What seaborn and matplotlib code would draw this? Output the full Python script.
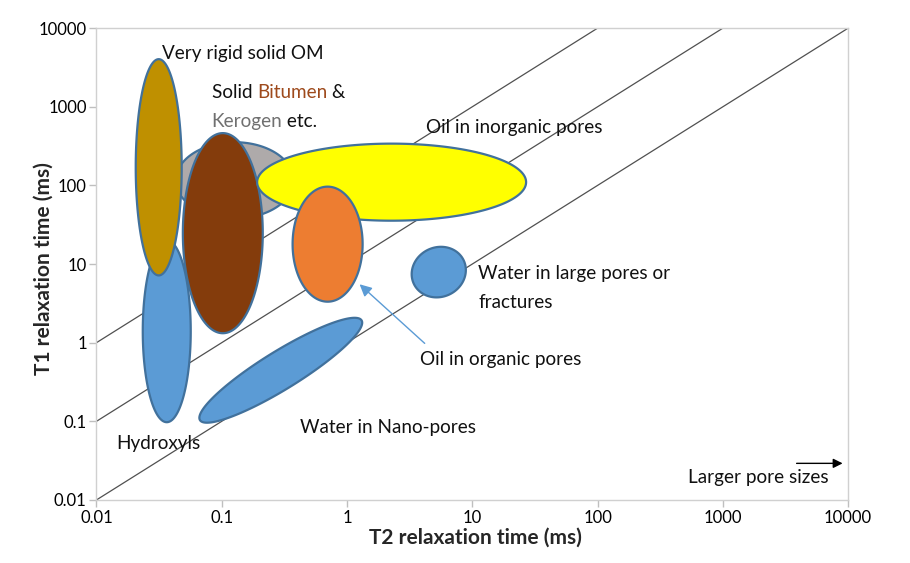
import numpy as np
import pandas as pd
import matplotlib
matplotlib.use("Agg")
import matplotlib.pyplot as plt
import seaborn as sns

# ---------------- data ----------------
tick_values = [0.01, 0.1, 1, 10, 100, 1000, 10000]
tick_labels = ["0.01", "0.1", "1", "10", "100", "1000", "10000"]

# T1/T2 ratio reference lines
ratios = [1, 10, 100]

# ellipses: name, centre T2, centre T1, width (x-decades), height (y-decades), angle (deg on screen), fill
ell_names = ["Kerogen", "Hydroxyls", "Very rigid solid OM", "Solid Bitumen",
             "Oil in inorganic pores", "Oil in organic pores",
             "Water in Nano-pores", "Water in large pores"]
ell_t2 = [0.127, 0.0364, 0.0314, 0.102, 2.27, 0.70, 0.296, 5.4]
ell_t1 = [116, 1.40, 170, 24.7, 110, 17.9, 0.446, 7.9]
ell_w = [0.94, 0.383, 0.367, 0.638, 2.147, 0.559, 1.516, 0.44]
ell_h = [0.97, 2.315, 2.75, 2.545, 0.98, 1.463, 0.483, 0.63]
ell_ang = [0, 0, 0, 0, 0, 0, 31.7, 25]
ell_col = ["#AEAAAA", "#5B9BD5", "#BF9000", "#843C0C",
           "#FFFF00", "#ED7D31", "#5B9BD5", "#5B9BD5"]

# ---------------- figure ----------------
sns.set_theme(style="white")
plt.rcParams["font.family"] = ["Lato", "DejaVu Sans"]

fig = plt.figure(figsize=(9.10, 5.63), dpi=100)
ax = fig.add_axes([0.106, 0.112, 0.826, 0.838])
ax.set_xscale("log")
ax.set_yscale("log")
ax.set_xlim(0.01, 10000)
ax.set_ylim(0.01, 10000)

# reference lines T1 = r * T2
xs = np.array([0.01, 10000.0])
rows = []
for r in ratios:
    for xv in xs:
        rows.append({"T2": xv, "T1": xv * r, "ratio": str(r)})
df_lines = pd.DataFrame(rows)
sns.lineplot(data=df_lines, x="T2", y="T1", units="ratio", estimator=None,
             color="#505050", lw=0.9, ax=ax, zorder=1, legend=False)

fig.canvas.draw()
bb = ax.get_window_extent()
sx = bb.width / 6.0
sy = bb.height / 6.0

def ellipse_pts(cx, cy, w, h, ang):
    t = np.linspace(0, 2 * np.pi, 300)
    a = w / 2 * sx
    b = h / 2 * sy
    th = np.radians(ang)
    dx = a * np.cos(t) * np.cos(th) - b * np.sin(t) * np.sin(th)
    dy = a * np.cos(t) * np.sin(th) + b * np.sin(t) * np.cos(th)
    return 10 ** (np.log10(cx) + dx / sx), 10 ** (np.log10(cy) + dy / sy)

for i in range(len(ell_names)):
    ex, ey = ellipse_pts(ell_t2[i], ell_t1[i], ell_w[i], ell_h[i], ell_ang[i])
    ax.fill(ex, ey, facecolor=ell_col[i], edgecolor="#41719C", lw=1.6,
            zorder=2 + i)

# ---------------- texts ----------------
fs = 13.6
tc = "#111111"
ax.text(0.0333, 4800, "Very rigid solid OM", fontsize=fs, color=tc, va="center", zorder=20)
t1 = ax.text(0.083, 1535, "Solid ", fontsize=fs, color=tc, va="center", zorder=20)
t2 = ax.annotate("Bitumen", xy=(1, 0), xycoords=t1, va="bottom", fontsize=fs,
                 color="#9E4A1C", zorder=20)
ax.annotate(" &", xy=(1, 0), xycoords=t2, va="bottom", fontsize=fs, color=tc, zorder=20)
k1 = ax.text(0.083, 656, "Kerogen", fontsize=fs, color="#707070", va="center", zorder=20)
ax.annotate(" etc.", xy=(1, 0), xycoords=k1, va="bottom", fontsize=fs, color=tc, zorder=20)
ax.text(4.25, 550, "Oil in inorganic pores", fontsize=fs, color=tc, va="center", zorder=20)
ax.text(11.2, 7.64, "Water in large pores or", fontsize=fs, color=tc, va="center", zorder=20)
ax.text(11.2, 3.27, "fractures", fontsize=fs, color=tc, va="center", zorder=20)
ax.text(3.8, 0.615, "Oil in organic pores", fontsize=fs, color=tc, va="center", zorder=20)
ax.text(0.42, 0.084, "Water in Nano-pores", fontsize=fs, color=tc, va="center", zorder=20)
ax.text(0.01426, 0.0525, "Hydroxyls", fontsize=fs, color=tc, va="center", zorder=20)
ax.text(525, 0.0194, "Larger pore sizes", fontsize=fs, color=tc, va="center", zorder=20)

# arrows
ax.annotate("", xy=(9040, 0.0292), xytext=(3880, 0.0292),
            arrowprops=dict(arrowstyle="-|>", color="black", lw=1.0,
                            mutation_scale=14, shrinkA=0, shrinkB=0), zorder=20)
ax.annotate("", xy=(1.26, 5.53), xytext=(4.17, 0.98),
            arrowprops=dict(arrowstyle="-|>", color="#5B9BD5", lw=1.0,
                            mutation_scale=18, shrinkA=0, shrinkB=0), zorder=20)

# ---------------- axes styling ----------------
ax.xaxis.set_major_locator(matplotlib.ticker.FixedLocator(tick_values))
ax.xaxis.set_major_formatter(matplotlib.ticker.FixedFormatter(tick_labels))
ax.yaxis.set_major_locator(matplotlib.ticker.FixedLocator(tick_values))
ax.yaxis.set_major_formatter(matplotlib.ticker.FixedFormatter(tick_labels))
ax.xaxis.set_minor_locator(matplotlib.ticker.NullLocator())
ax.yaxis.set_minor_locator(matplotlib.ticker.NullLocator())
ax.tick_params(axis="both", which="major", direction="out", length=5, width=1,
               color="#BFBFBF", labelsize=12, labelcolor="black", pad=2,
               bottom=True, left=True)
for s in ax.spines.values():
    s.set_color("#D0D0D0")
    s.set_linewidth(1.0)
ax.grid(False)

ax.set_xlabel("T2 relaxation time (ms)", fontsize=15, fontweight="bold")
ax.set_ylabel("T1 relaxation time (ms)", fontsize=15, fontweight="bold")
ax.xaxis.set_label_coords(0.504, -0.08)
ax.yaxis.label.set_va("center")
ax.xaxis.label.set_va("center")
ax.yaxis.set_label_coords(-0.070, 0.49)

fig.savefig("out.png", dpi=100)
